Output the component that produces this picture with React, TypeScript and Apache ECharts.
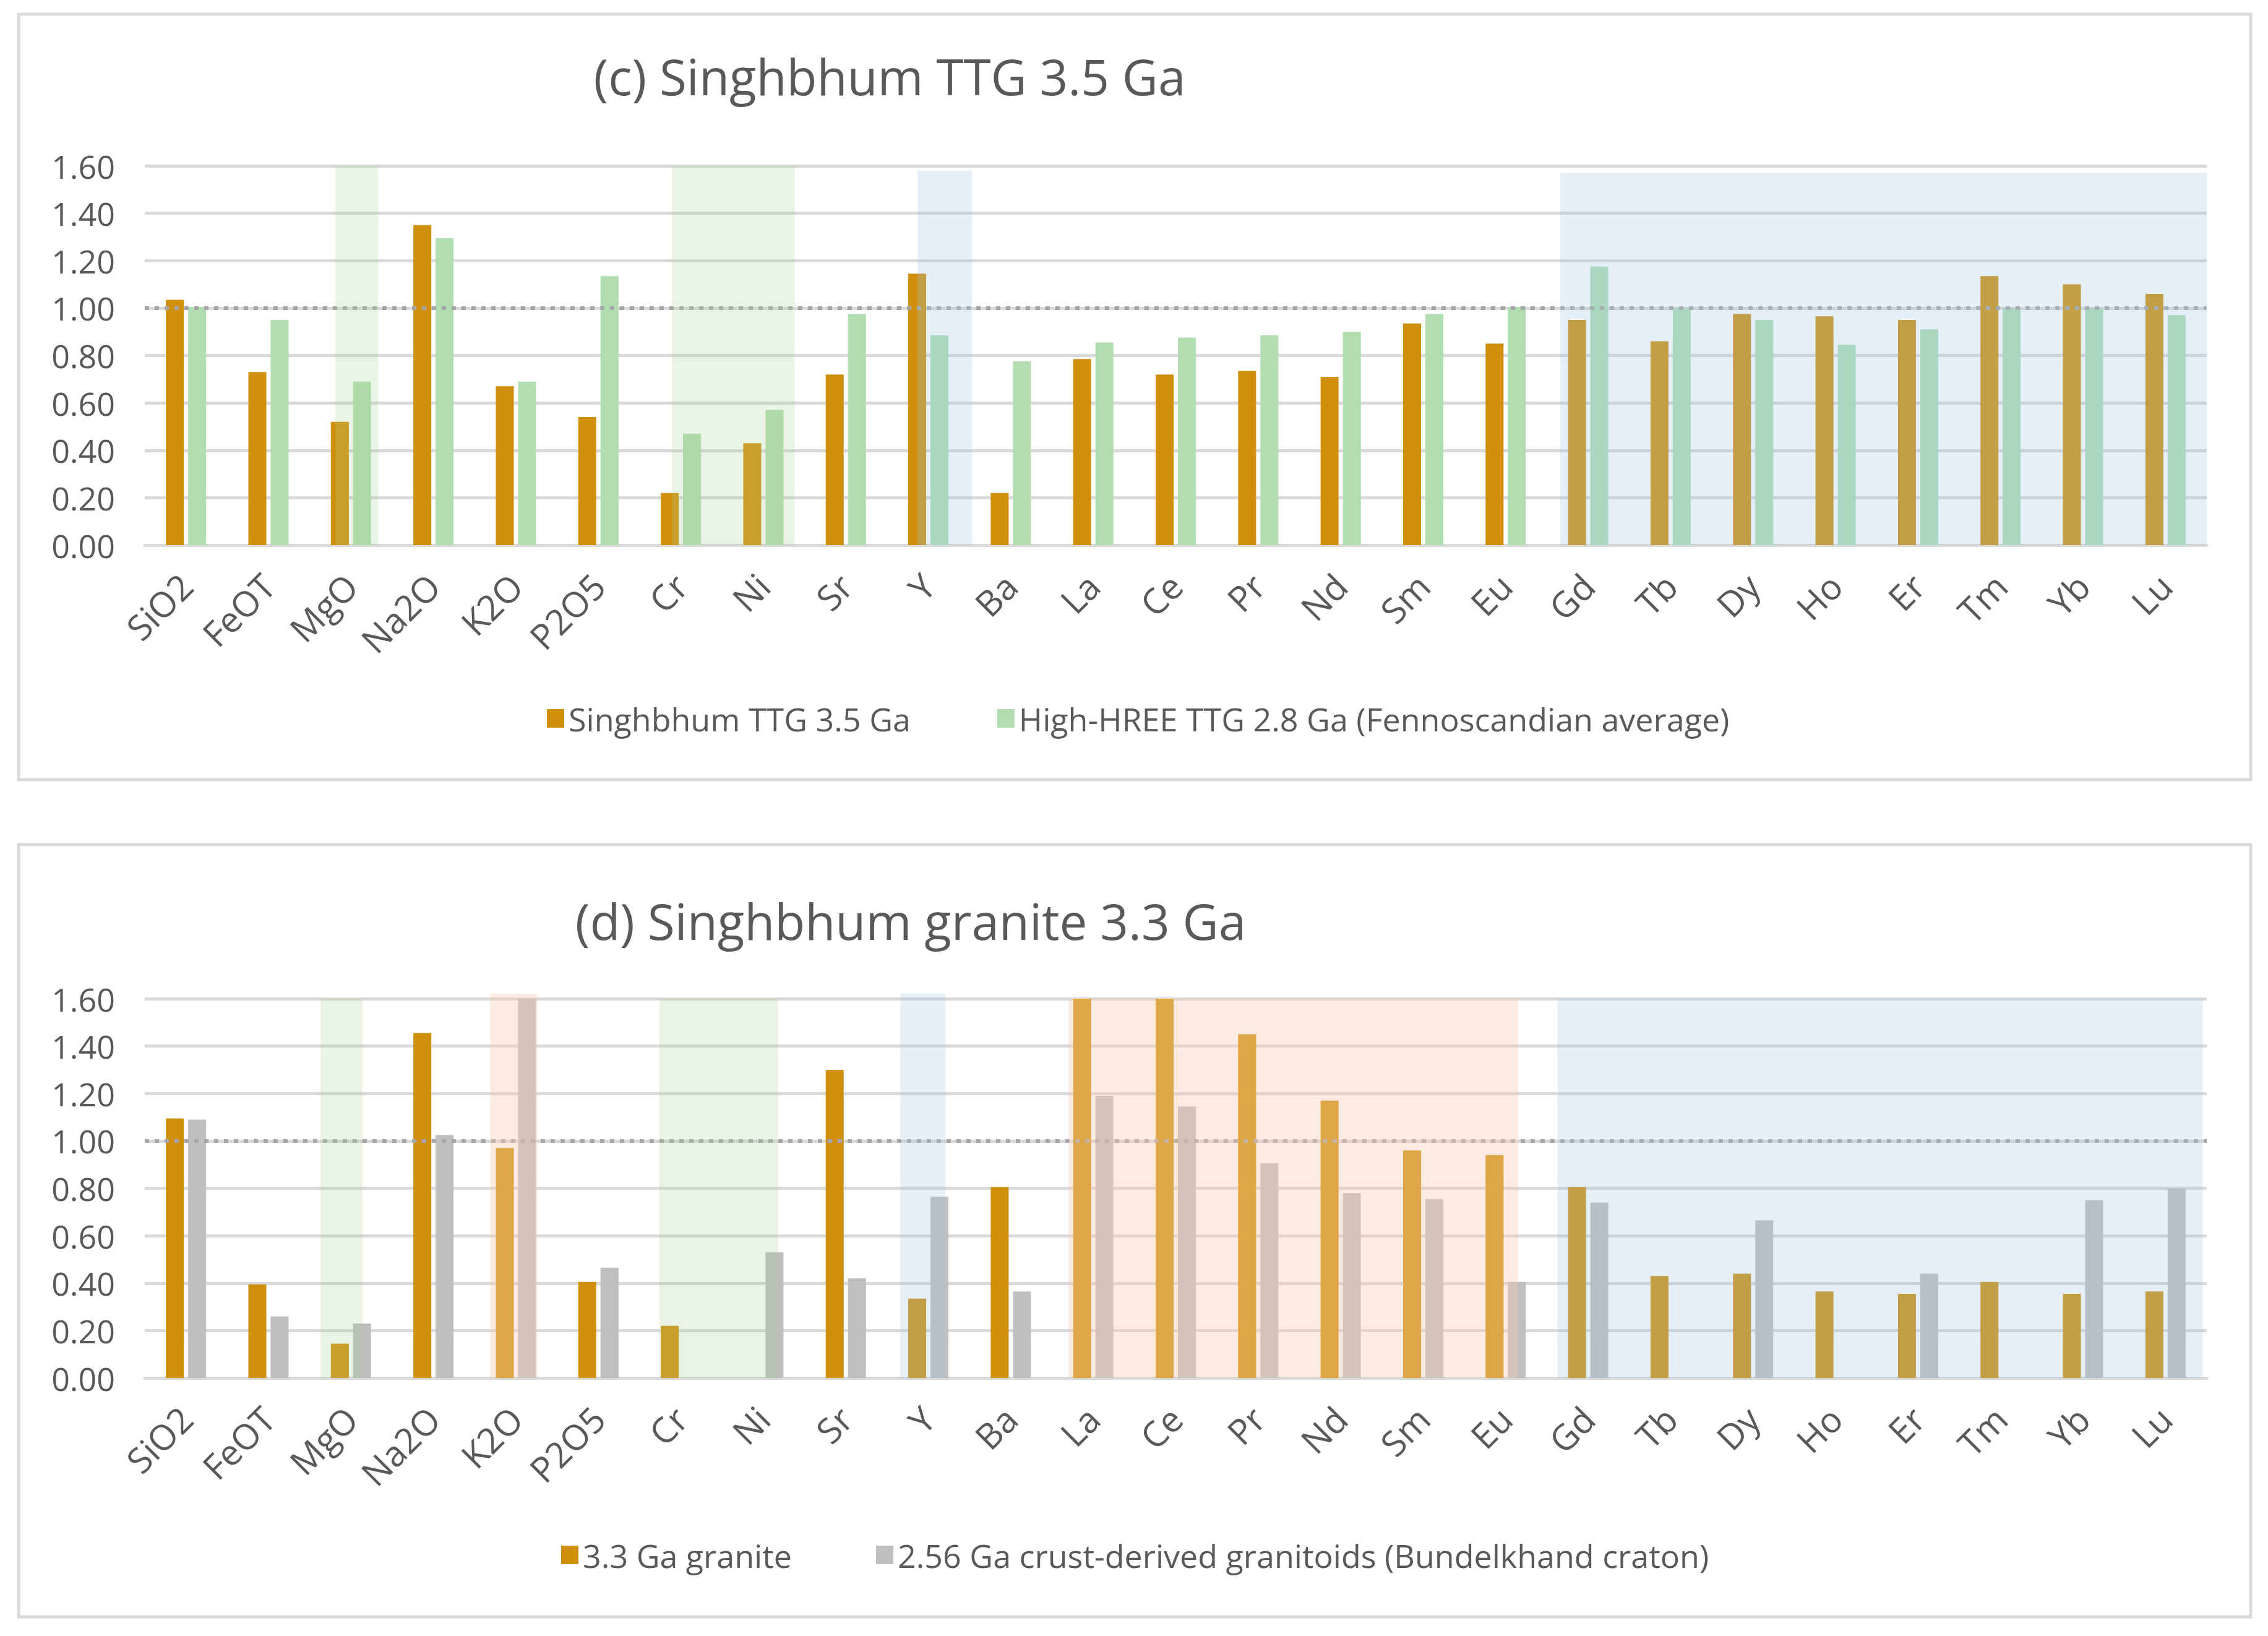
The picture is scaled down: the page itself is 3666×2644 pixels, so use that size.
import React, { useEffect, useRef } from "react";
import * as echarts from "echarts";

const categories = ["SiO2", "FeOT", "MgO", "Na2O", "K2O", "P2O5", "Cr", "Ni", "Sr", "Y", "Ba", "La", "Ce", "Pr", "Nd", "Sm", "Eu", "Gd", "Tb", "Dy", "Ho", "Er", "Tm", "Yb", "Lu"];

const topTitle = "(c) Singhbhum TTG 3.5 Ga";
const topNames = ["Singhbhum TTG 3.5 Ga", "High-HREE TTG 2.8 Ga (Fennoscandian average)"];
const singhbhumTTG = [1.035, 0.73, 0.52, 1.35, 0.67, 0.54, 0.22, 0.43, 0.72, 1.145, 0.22, 0.785, 0.72, 0.735, 0.71, 0.935, 0.85, 0.95, 0.86, 0.975, 0.965, 0.95, 1.135, 1.1, 1.06];
const highHreeTTG = [1.005, 0.95, 0.69, 1.295, 0.69, 1.135, 0.47, 0.57, 0.975, 0.885, 0.775, 0.855, 0.875, 0.885, 0.9, 0.975, 1.005, 1.175, 1.0, 0.95, 0.845, 0.91, 1.0, 1.0, 0.97];

const bottomTitle = "(d) Singhbhum granite 3.3 Ga";
const bottomNames = ["3.3 Ga granite", "2.56 Ga crust-derived granitoids (Bundelkhand craton)"];
const granite33 = [1.095, 0.395, 0.145, 1.455, 0.97, 0.405, 0.22, null, 1.3, 0.335, 0.805, 1.6, 1.6, 1.45, 1.17, 0.96, 0.94, 0.805, 0.43, 0.44, 0.365, 0.355, 0.405, 0.355, 0.365];
const bundelkhand = [1.09, 0.26, 0.23, 1.025, 1.6, 0.465, null, 0.53, 0.42, 0.765, 0.365, 1.19, 1.145, 0.905, 0.78, 0.755, 0.405, 0.74, null, 0.665, null, 0.44, null, 0.75, 0.8];

// shaded groups: [first category, last category, top value, colour key]
const topShades = [["MgO", "MgO", 1.6, "green"], ["Cr", "Ni", 1.6, "green"], ["Y", "Y", 1.58, "blue"], ["Gd", "Lu", 1.57, "blue"]];
const bottomShades = [["MgO", "MgO", 1.6, "green"], ["K2O", "K2O", 1.62, "pink"], ["Cr", "Ni", 1.6, "green"], ["Y", "Y", 1.62, "blue"], ["La", "Eu", 1.6, "pink"], ["Gd", "Lu", 1.6, "blue"]];

const yTicks = { min: 0, max: 1.6, interval: 0.2 };
const refValue = 1.0;

// styles
const shadeInsetsTop = [[0.31, 0.83], [0.39, 0.88], [0.37, 1.03], [0.16, 1.0]];
const shadeInsetsBottom = [[0.13, 0.64], [0.19, 0.76], [0.24, 0.68], [0.16, 0.71], [0.2, 0.65], [0.13, 0.95]];
const shadeColors = {
  green: "rgba(169,209,142,0.24)",
  blue: "rgba(157,195,230,0.27)",
  pink: "rgba(248,203,173,0.38)",
};
const ORANGE = "#D1900B";
const GREEN = "#B1DDB1";
const GREY = "#BFBFBF";
const TEXT = "#595959";
const FONT = "Open Sans";

function makeShadeSeries(shades: any[], insets: number[][], idx: number) {
  const data = shades.map((s) => [categories.indexOf(s[0]), categories.indexOf(s[1]), s[2]]);
  return {
    type: "custom",
    xAxisIndex: idx,
    yAxisIndex: idx,
    z: 5,
    silent: true,
    data,
    renderItem: (params: any, api: any) => {
      const i = params.dataIndex;
      const s = api.value(0);
      const e = api.value(1);
      const top = api.value(2);
      const bw = api.size([1, 0])[0];
      const p0 = api.coord([s, 0]);
      const p1 = api.coord([e, top]);
      const x0 = p0[0] - bw / 2 + insets[i][0] * bw;
      const x1 = p1[0] - bw / 2 + insets[i][1] * bw;
      return {
        type: "rect",
        shape: { x: x0, y: p1[1], width: x1 - x0, height: p0[1] - p1[1] },
        style: { fill: (shadeColors as any)[shades[i][3]] },
      };
    },
  };
}

function makeRefLine(idx: number) {
  return {
    type: "line",
    xAxisIndex: idx,
    yAxisIndex: idx,
    data: [],
    z: 10,
    silent: true,
    markLine: {
      silent: true,
      symbol: "none",
      label: { show: false },
      lineStyle: { type: [7, 9], width: 6, color: "#A6A6A6" },
      data: [{ yAxis: refValue }],
    },
  };
}

function makeBar(name: string, data: any[], color: string, idx: number) {
  return {
    name,
    type: "bar",
    xAxisIndex: idx,
    yAxisIndex: idx,
    data,
    barWidth: 29,
    barGap: "24%",
    z: 2,
    itemStyle: { color },
  };
}

function xAxis(idx: number) {
  return {
    type: "category",
    gridIndex: idx,
    data: categories,
    axisLine: { show: true, lineStyle: { color: "#D9D9D9", width: 5 } },
    axisTick: { show: false },
    axisLabel: { rotate: 45, interval: 0, fontSize: 57, color: TEXT, margin: 56, fontFamily: FONT },
  };
}

function yAxis(idx: number) {
  return {
    type: "value",
    gridIndex: idx,
    min: yTicks.min,
    max: yTicks.max,
    interval: yTicks.interval,
    axisLine: { show: false },
    axisTick: { show: false },
    axisLabel: { fontSize: 52, color: TEXT, margin: 48, fontFamily: FONT, formatter: (v: number) => v.toFixed(2) },
    splitLine: { lineStyle: { color: "#D9D9D9", width: 5 } },
  };
}

export default function App() {
  const ref = useRef<HTMLDivElement>(null);
  useEffect(() => {
    if (!ref.current) return;
    const chart = echarts.init(ref.current, null, { renderer: "svg" });
    chart.setOption({
      animation: false,
      backgroundColor: "#FFFFFF",
      textStyle: { fontFamily: FONT },
      grid: [
        { left: 234, right: 99, top: 268, height: 613 },
        { left: 234, right: 99, top: 1614, height: 613 },
      ],
      xAxis: [xAxis(0), xAxis(1)],
      yAxis: [yAxis(0), yAxis(1)],
      legend: [
        {
          data: topNames,
          left: 879,
          top: 1130,
          itemWidth: 28,
          itemHeight: 30,
          itemGap: 140,
          icon: "rect",
          textStyle: { fontSize: 52, color: TEXT, fontFamily: FONT, padding: [0, 0, 0, 2] },
        },
        {
          data: bottomNames,
          left: 902,
          top: 2482,
          itemWidth: 28,
          itemHeight: 30,
          itemGap: 136,
          icon: "rect",
          textStyle: { fontSize: 52, color: TEXT, fontFamily: FONT, padding: [0, 0, 0, 2] },
        },
      ],
      graphic: [
        { type: "rect", z: -10, shape: { x: 30, y: 23, width: 3608, height: 1237 }, style: { fill: "#FFFFFF", stroke: "#D9D9D9", lineWidth: 5 } },
        { type: "rect", z: -10, shape: { x: 30, y: 1365, width: 3608, height: 1248 }, style: { fill: "#FFFFFF", stroke: "#D9D9D9", lineWidth: 5 } },
        { type: "text", x: 1438, y: 122, style: { text: topTitle, fontSize: 80, fill: TEXT, fontFamily: FONT, textAlign: "center", textVerticalAlign: "middle" } },
        { type: "text", x: 1472, y: 1487, style: { text: bottomTitle, fontSize: 80, fill: TEXT, fontFamily: FONT, textAlign: "center", textVerticalAlign: "middle" } },
      ],
      series: [
        makeBar(topNames[0], singhbhumTTG, ORANGE, 0),
        makeBar(topNames[1], highHreeTTG, GREEN, 0),
        makeShadeSeries(topShades, shadeInsetsTop, 0),
        makeRefLine(0),
        makeBar(bottomNames[0], granite33, ORANGE, 1),
        makeBar(bottomNames[1], bundelkhand, GREY, 1),
        makeShadeSeries(bottomShades, shadeInsetsBottom, 1),
        makeRefLine(1),
      ],
    });
    return () => chart.dispose();
  }, []);
  return <div ref={ref} style={{ position: "absolute", left: 0, top: 0, width: 3666, height: 2644 }} />;
}
